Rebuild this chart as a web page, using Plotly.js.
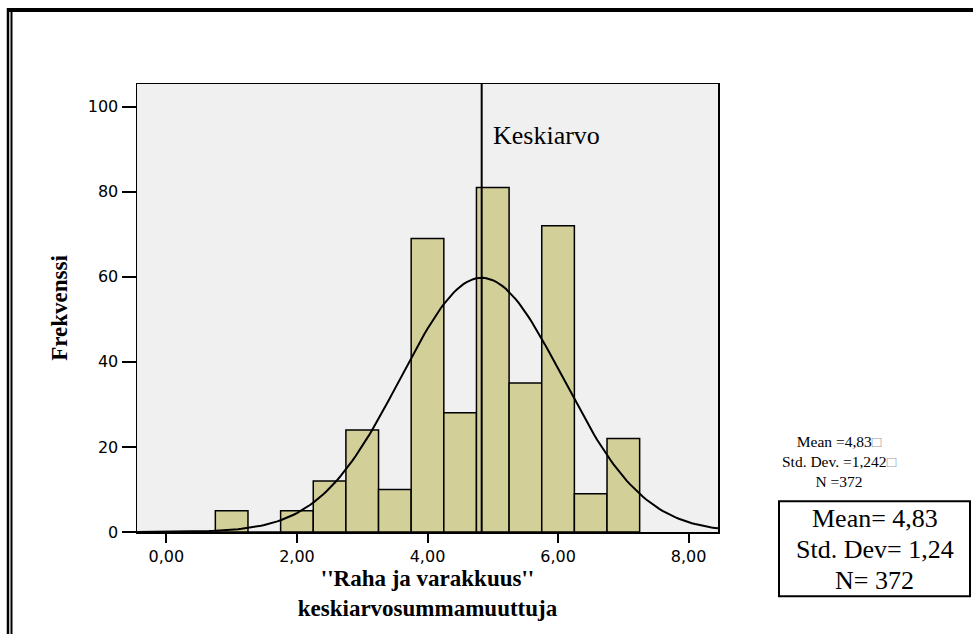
<!DOCTYPE html>
<html>
<head>
<meta charset="utf-8">
<script src="https://cdn.plot.ly/plotly-3.0.1.min.js"></script>
<style>
html,body{margin:0;padding:0;background:#fff;}
#chart{width:973px;height:634px;}
</style>
</head>
<body>
<div id="chart"></div>
<script>
// Histogram bins (centres) and frequencies
const binCenters = [1.0, 1.5, 2.0, 2.5, 3.0, 3.5, 4.0, 4.5, 5.0, 5.5, 6.0, 6.5, 7.0];
const frequencies = [5, 0, 5, 12, 24, 10, 69, 28, 81, 35, 72, 9, 22];
const binWidth = 0.5;
// Summary statistics shown on the chart
const meanValue = 4.83;
const stdDev = 1.242;
const nCount = 372;
const xTickVals = [0, 2, 4, 6, 8];
const xTickText = ["0,00", "2,00", "4,00", "6,00", "8,00"];
const yTickVals = [0, 20, 40, 60, 80, 100];
const yTickText = ["0", "20", "40", "60", "80", "100"];

// Fitted normal curve from the stated mean / std. dev. / N
const curveX = [], curveY = [];
for (let x = -0.45; x <= 8.4501; x += 0.05) {
  curveX.push(x);
  const z = (x - meanValue) / stdDev;
  curveY.push(nCount * binWidth * Math.exp(-0.5 * z * z) / (stdDev * Math.sqrt(2 * Math.PI)));
}

const L = 137, R = 718, T = 84, B = 531.7, W = 973, H = 634;
const px = v => (v - L) / (R - L);
const py = v => (B - v) / (B - T);

const serif = "Liberation Serif, Times New Roman, serif";
const sans = "DejaVu Sans, Arial, sans-serif";

const traces = [
  {
    type: "bar", x: binCenters, y: frequencies, width: binWidth,
    marker: {color: "#D3CF98", line: {color: "#000", width: 1.5}},
    hoverinfo: "x+y", showlegend: false
  },
  {
    type: "scatter", mode: "lines", x: curveX, y: curveY,
    line: {color: "#000", width: 2}, hoverinfo: "skip", showlegend: false
  }
];

const layout = {
  width: W, height: H,
  margin: {l: L, r: W - R, t: T, b: H - B},
  paper_bgcolor: "#fff", plot_bgcolor: "#F0F0F0",
  bargap: 0,
  showlegend: false,
  xaxis: {
    range: [-0.45, 8.45], tickvals: xTickVals, ticktext: xTickText,
    ticks: "outside", ticklen: 9, tickwidth: 2, tickcolor: "#000",
    showline: true, mirror: true, linecolor: "#000", linewidth: 1.5,
    showgrid: false, zeroline: false,
    tickfont: {family: sans, size: 16, color: "#000"},
    title: {text: "<b>''Raha ja varakkuus''<br>keskiarvosummamuuttuja</b>",
            font: {family: serif, size: 23, color: "#000"}, standoff: 5}
  },
  yaxis: {
    range: [0, 105.3], tickvals: yTickVals, ticktext: yTickText,
    ticks: "outside", ticklen: 14, tickwidth: 2, tickcolor: "#000",
    showline: true, mirror: true, linecolor: "#000", linewidth: 1.5,
    showgrid: false, zeroline: false,
    tickfont: {family: sans, size: 16, color: "#000"},
    title: {text: "<b>Frekvenssi</b>", font: {family: serif, size: 23, color: "#000"}, standoff: 13}
  },
  shapes: [
    {type: "line", xref: "x", yref: "paper", x0: meanValue, x1: meanValue, y0: 0, y1: 1,
     line: {color: "#000", width: 2}},
    // outer frame
    {type: "line", xref: "paper", yref: "paper", x0: px(7), x1: px(973), y0: py(10), y1: py(10),
     line: {color: "#000", width: 4}},
    {type: "line", xref: "paper", yref: "paper", x0: px(8), x1: px(8), y0: py(8), y1: py(640),
     line: {color: "#000", width: 2.5}},
    {type: "line", xref: "paper", yref: "paper", x0: px(11.5), x1: px(11.5), y0: py(12), y1: py(640),
     line: {color: "#000", width: 2}},
    // stats box
    {type: "rect", xref: "paper", yref: "paper", x0: px(779), x1: px(970), y0: py(501), y1: py(596),
     line: {color: "#000", width: 2}, fillcolor: "rgba(0,0,0,0)"}
  ],
  annotations: [
    {xref: "x", yref: "y", x: meanValue, y: 93.3, xanchor: "left", yanchor: "middle", xshift: 9,
     text: "Keskiarvo", showarrow: false, font: {family: serif, size: 26, color: "#000"}},
    {xref: "paper", yref: "paper", x: px(839), y: py(461.5), xanchor: "center", yanchor: "middle",
     align: "center",
     text: "Mean =4,83<span style='color:#999'>□</span><br>Std. Dev. =1,242<span style='color:#999'>□</span><br>N =372",
     showarrow: false, font: {family: serif, size: 15.5, color: "#000"}},
    {xref: "paper", yref: "paper", x: px(874.5), y: py(518), xanchor: "center", yanchor: "middle",
     text: "Mean= 4,83", showarrow: false, font: {family: serif, size: 26, color: "#000"}},
    {xref: "paper", yref: "paper", x: px(874.5), y: py(549), xanchor: "center", yanchor: "middle",
     text: "Std. Dev= 1,24", showarrow: false, font: {family: serif, size: 26, color: "#000"}},
    {xref: "paper", yref: "paper", x: px(874.5), y: py(580), xanchor: "center", yanchor: "middle",
     text: "N= 372", showarrow: false, font: {family: serif, size: 26, color: "#000"}}
  ]
};

Plotly.newPlot("chart", traces, layout, {displayModeBar: false, staticPlot: true});
</script>
</body>
</html>
